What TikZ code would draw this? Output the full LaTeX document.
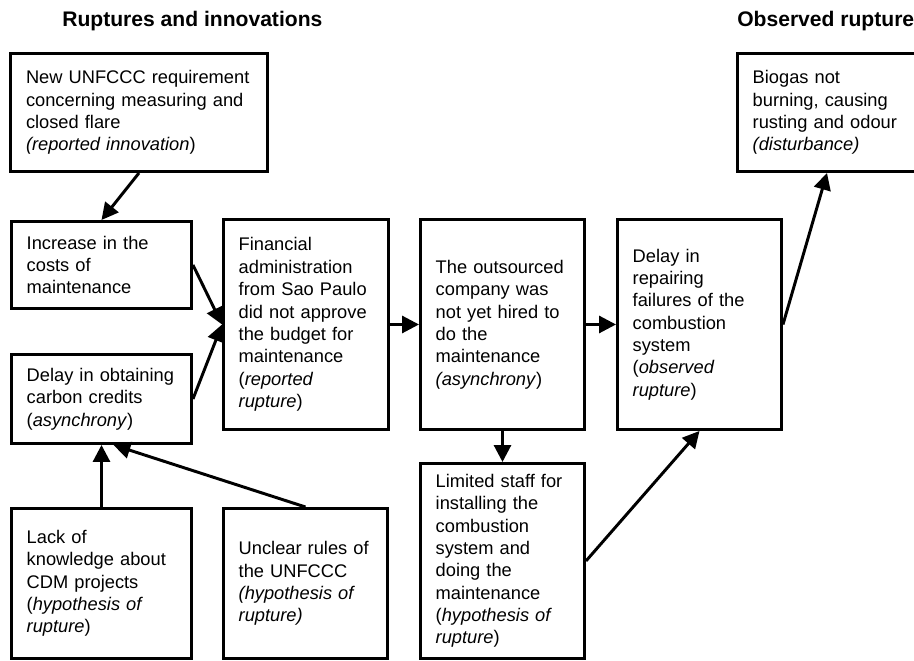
\documentclass[tikz,border=0pt]{standalone}
\usepackage{fontspec}
\setmainfont{Liberation Sans}
\usetikzlibrary{arrows.meta, positioning}

\begin{document}
\begin{tikzpicture}[
    heading/.style={anchor=base west, inner sep=0pt, font=\fontsize{15pt}{18pt}\selectfont\bfseries},
    box/.style={draw, line width=2.1pt, align=left, inner xsep=0.38cm, inner ysep=0.1cm,
        font=\fontsize{13pt}{15.9pt}\selectfont},
    link/.style={-{Triangle[length=0.42cm, width=0.42cm]}, line width=2.1pt},
]
\useasboundingbox (0,0) rectangle (22.85,16.525);

% --- column headings ---
\node[heading] (hleft) at (1.55,15.85) {Ruptures and innovations};
\node[heading] (hright) at (18.425,15.85) {Observed rupture};

% ================= left column =================
\node[box, text width=5.65cm, minimum height=2.95cm] (newreq) at (3.475,13.7125)
    {New UNFCCC requirement\\concerning measuring and\\closed flare\\\textit{(reported innovation})};
\node[box, text width=3.74cm, minimum height=2.175cm] (costs) at (2.5375,9.9)
    {Increase in the\\costs of\\maintenance};
\node[box, text width=3.74cm, minimum height=2.225cm] (credits) at (2.5375,6.55)
    {Delay in obtaining\\carbon credits\\(\textit{asynchrony})};
\node[box, text width=3.74cm, minimum height=3.75cm] (knowledge) at (2.5375,1.9375)
    {Lack of\\knowledge about\\CDM projects\\(\textit{hypothesis of}\\\textit{rupture})};
\node[box, text width=3.34cm, minimum height=3.75cm] (rules) at (7.6375,1.9375)
    {Unclear rules of\\the UNFCCC\\\textit{(hypothesis of}\\\textit{rupture)}};

% ================= middle row =================
\node[box, text width=3.365cm, minimum height=5.25cm] (budget) at (7.65,8.4125)
    {Financial\\administration\\from Sao Paulo\\did not approve\\the budget for\\maintenance\\(\textit{reported}\\\textit{rupture})};
\node[box, text width=3.34cm, minimum height=5.25cm] (outsourced) at (12.5625,8.4125)
    {The outsourced\\company was\\not yet hired to\\do the\\maintenance\\\textit{(asynchrony})};
\node[box, text width=3.34cm, minimum height=5.25cm] (repair) at (17.4875,8.4125)
    {Delay in\\repairing\\failures of the\\combustion\\system\\(\textit{observed}\\\textit{rupture})};
\node[box, text width=3.34cm, minimum height=4.875cm] (staff) at (12.5625,2.5)
    {Limited staff for\\installing the\\combustion\\system and\\doing the\\maintenance\\(\textit{hypothesis of}\\\textit{rupture})};

% ================= observed rupture =================
\node[box, text width=3.715cm, minimum height=2.95cm] (biogas) at (20.675,13.7125)
    {Biogas not\\burning, causing\\rusting and odour\\\textit{(disturbance)}};

% --- links ---
\draw[link] (newreq.south) -- (costs.north);
\draw[link] (costs.east) -- (budget.west);
\draw[link] (credits.east) -- (budget.west);
\draw[link] (knowledge) -- (credits);
\draw[link] (rules.north) -- ([xshift=0.3cm]credits.south);
\draw[link] (budget) -- (outsourced);
\draw[link] (outsourced) -- (repair);
\draw[link] (outsourced) -- (staff);
\draw[link] (staff.east) -- (repair.south);
\draw[link] (repair.east) -- (biogas.south);

\end{tikzpicture}
\end{document}
